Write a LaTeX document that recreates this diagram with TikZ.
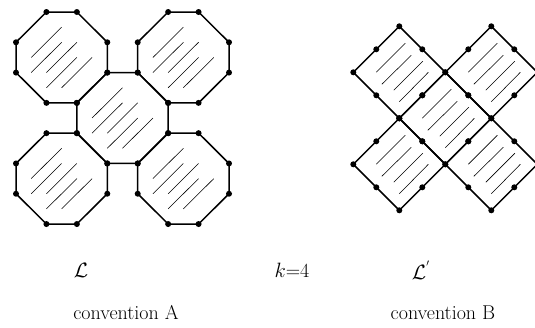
\documentclass[tikz,border=0pt]{standalone}
\begin{document}
\begin{tikzpicture}[x=1pt,y=-1pt,
  edge/.style={line width=1.5pt, line join=round},
  hatch/.style={line width=0.55pt},
  lbl/.style={font=\fontsize{20}{24}\selectfont, inner sep=0pt}]
\useasboundingbox (0,0) rectangle (535,327);
\clip (0,0) rectangle (535,327);
% convention A : octagons
\begin{scope}[shift={(16,12)}, x=30.43pt, y=-30.29pt]
  \foreach \cx/\cy in {1.5/1.5,5.5/1.5,3.5/3.5,1.5/5.5,5.5/5.5}{
    \draw[edge] (\cx-0.5,\cy-1.5) -- (\cx+0.5,\cy-1.5) -- (\cx+1.5,\cy-0.5) -- (\cx+1.5,\cy+0.5)
      -- (\cx+0.5,\cy+1.5) -- (\cx-0.5,\cy+1.5) -- (\cx-1.5,\cy+0.5) -- (\cx-1.5,\cy-0.5) -- cycle;
    \draw[hatch] (\cx-1,\cy) -- (\cx,\cy-1)
                 (\cx-1,\cy+0.5) -- (\cx,\cy-0.5)
                 (\cx-0.5,\cy+0.5) -- (\cx+0.5,\cy-0.5)
                 (\cx-0.5,\cy+1) -- (\cx+0.5,\cy)
                 (\cx,\cy+1) -- (\cx+1,\cy);
    \foreach \dx/\dy in {-0.5/-1.5,0.5/-1.5,1.5/-0.5,1.5/0.5,0.5/1.5,-0.5/1.5,-1.5/0.5,-1.5/-0.5}
      \fill (\cx+\dx,\cy+\dy) circle[radius=3pt];
  }
\end{scope}
% convention B : diamonds
\foreach \cx/\cy in {399.3/72.3,491.3/72.3,445.3/118.3,399.3/164.3,491.3/164.3}{
  \draw[edge] (\cx-46,\cy) -- (\cx,\cy-46) -- (\cx+46,\cy) -- (\cx,\cy+46) -- cycle;
  \draw[hatch] (\cx-23,\cy) -- (\cx+6,\cy-29)
               (\cx-17.5,\cy+12) -- (\cx+12,\cy-17)
               (\cx-5.5,\cy+18) -- (\cx+23.5,\cy-11)
               (\cx,\cy+29.5) -- (\cx+29,\cy);
  \foreach \dx/\dy in {-46/0,0/-46,0/46,-23/-23,23/-23,-23/23,23/23}
    \fill (\cx+\dx,\cy+\dy) circle[radius=3pt];
}
% labels
\node[lbl] (lA) at (81,270) {$\mathcal{L}$};
\node[lbl] (k) at (292,270) {$k$=4};
\node[lbl] (lB) at (421,270) {$\mathcal{L}^{'}$};
\node[lbl] (cA) at (126,313) {convention A};
\node[lbl] (cB) at (443,313) {convention B};
\end{tikzpicture}
\end{document}
